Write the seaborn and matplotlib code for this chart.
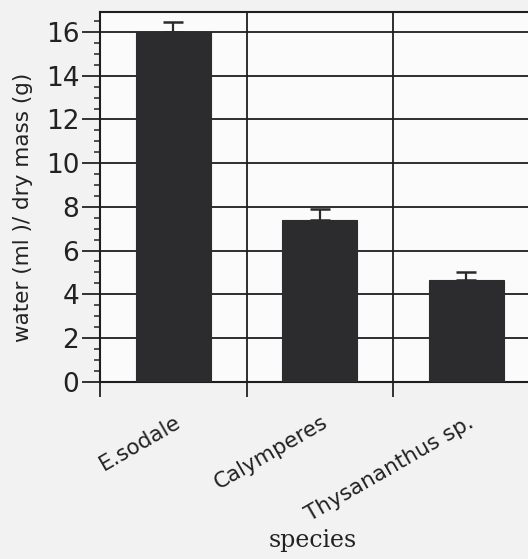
import matplotlib
matplotlib.use("Agg")
import matplotlib.pyplot as plt
import matplotlib.transforms as mtransforms
from matplotlib.ticker import MultipleLocator, FixedLocator, NullFormatter
import seaborn as sns
import pandas as pd

species = ["E.sodale", "Calymperes", "Thysananthus sp."]
water_ratio = [16.0, 7.4, 4.65]
error_up = [0.48, 0.48, 0.35]
y_label = "water (ml )/ dry mass (g)"
x_label = "species"

sns.set_style("white")
plt.rcParams['font.family'] = ['DejaVu Sans']

df = pd.DataFrame({"species": species, "ratio": water_ratio})

fig = plt.figure(figsize=(5.28, 5.59), dpi=100, facecolor="#f2f2f2")
ax = fig.add_axes([100/528, 1 - 381.7/559, 1 - 100/528, (381.7 - 11.7)/559])
ax.set_facecolor("#fbfbfb")

sns.barplot(data=df, x="species", y="ratio", color="#2c2c2e", width=0.51,
            errorbar=None, ax=ax, zorder=3, edgecolor="#2c2c2e", linewidth=0.8,
            saturation=1)
ax.errorbar(range(len(species)), water_ratio, yerr=[[0]*len(species), error_up],
            fmt="none", ecolor="#2a2a2a", elinewidth=1.6, capsize=7.5, capthick=1.8,
            zorder=2)

ax.set_ylim(0, 16.93)
ax.set_xlim(-0.5, 2.42)

ax.yaxis.set_major_locator(MultipleLocator(2))
ax.yaxis.set_minor_locator(MultipleLocator(0.5))
ax.tick_params(axis="y", which="major", direction="out", length=13, width=1.3,
               color="#222222", labelsize=19, pad=2, left=True, labelcolor="#222222")
ax.tick_params(axis="y", which="minor", direction="out", length=4, width=1.1,
               color="#222222", left=True)

ax.xaxis.set_major_locator(FixedLocator([-0.5, 0.5, 1.5, 2.5]))
ax.xaxis.set_major_formatter(NullFormatter())
ax.xaxis.set_minor_locator(FixedLocator([0, 1, 2]))
ax.set_xticklabels(species, minor=True)
ax.tick_params(axis="x", which="major", direction="out", length=11, width=1.3,
               color="#222222", bottom=True)
ax.tick_params(axis="x", which="minor", length=0, pad=28, labelsize=15.5,
               labelcolor="#222222")
offset = mtransforms.ScaledTranslation(6/100, 0, fig.dpi_scale_trans)
for lbl in ax.get_xticklabels(minor=True):
    lbl.set_rotation(30)
    lbl.set_ha("right")
    lbl.set_va("center")
    lbl.set_rotation_mode("anchor")
    lbl.set_transform(lbl.get_transform() + offset)

ax.set_axisbelow(True)
ax.grid(True, which="major", axis="both", color="#1e1e1e", linewidth=1.3)

for side in ["left", "bottom", "top"]:
    ax.spines[side].set_visible(True)
    ax.spines[side].set_color("#1e1e1e")
    ax.spines[side].set_linewidth(1.5)
ax.spines["right"].set_visible(False)

ax.set_xlabel("")
ax.set_ylabel("")
fig.text(23/528, 1 - 207/559, y_label, rotation=90, ha="center", va="center",
         fontsize=15.5, color="#222222")
fig.text(313/528, 1 - 541/559, x_label, ha="center", va="center",
         fontsize=17, family="DejaVu Serif", color="#222222")

fig.savefig("out.png", dpi=100, facecolor=fig.get_facecolor())
